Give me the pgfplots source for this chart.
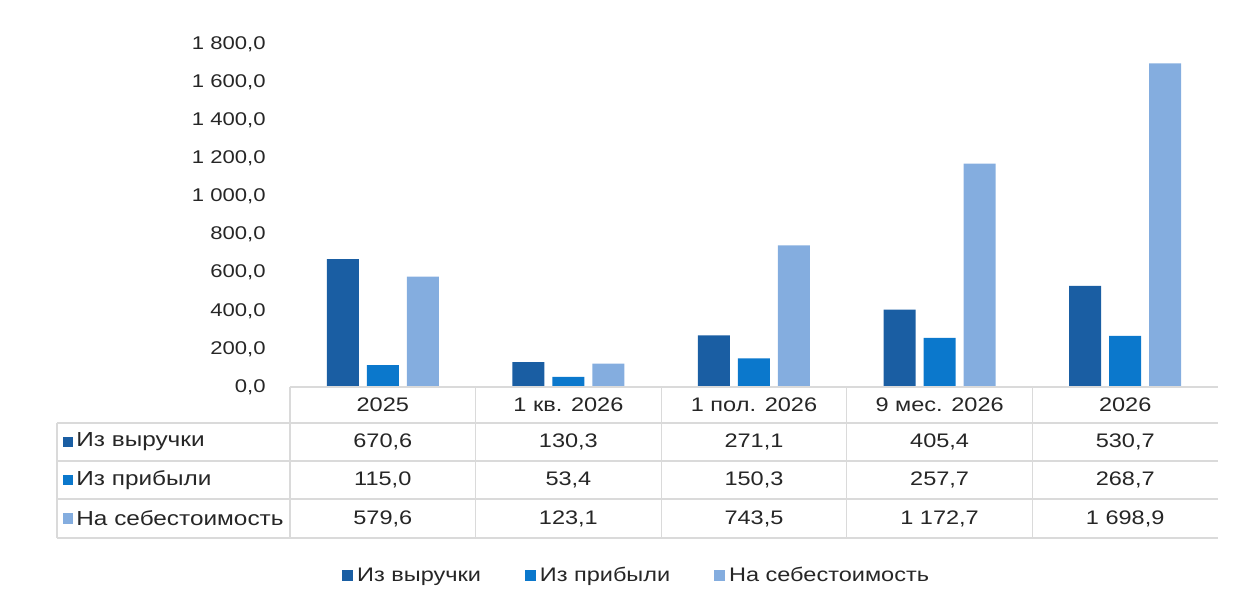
\documentclass[border=0pt]{standalone}
\usepackage{fontspec}
\setmainfont{Liberation Sans}[FakeStretch=1.2]
\usepackage{pgfplots}
\pgfplotsset{compat=1.18}
\definecolor{cA}{HTML}{1A5EA3}
\definecolor{cB}{HTML}{0B78CC}
\definecolor{cC}{HTML}{84ADDF}
\definecolor{gridc}{HTML}{DADADA}
\definecolor{txt}{HTML}{262626}
\begin{document}
\begin{tikzpicture}[x=1pt,y=1pt]
\path[use as bounding box] (-145,-109) rectangle (471.5,193.5);
\begin{axis}[
  at={(0,0)}, anchor=south west,
  scale only axis, width=464pt, height=171.5pt,
  xmin=-0.5, xmax=4.5, ymin=0, ymax=1800,
  ybar=4pt, bar width=16pt,
  clip=false,
  axis line style={draw=none},
  tick style={draw=none},
  xtick=\empty,
  ytick={0,200,400,600,800,1000,1200,1400,1600,1800},
  yticklabels={{0,0},{200,0},{400,0},{600,0},{800,0},{1 000,0},{1 200,0},{1 400,0},{1 600,0},{1 800,0}},
  yticklabel style={anchor=east, inner sep=0pt, xshift=-12pt, font=\fontsize{9.2}{10}\selectfont, text=txt},
  legend style={at={(axis description cs:0.056,-0.551)}, anchor=west, draw=none, fill=none,
    legend columns=3, font=\fontsize{9.8}{12}\selectfont, text=txt,
    /tikz/every even column/.append style={column sep=20pt},
    inner sep=0pt},
  legend image code/.code={\fill[#1] (0pt,-2.6pt) rectangle (5.4pt,2.8pt);},
]
\addplot[fill=cA, draw=none] coordinates {(0,670.6) (1,130.3) (2,271.1) (3,405.4) (4,530.7)};
\addplot[fill=cB, draw=none] coordinates {(0,115.0) (1,53.4) (2,150.3) (3,257.7) (4,268.7)};
\addplot[fill=cC, draw=none] coordinates {(0,579.6) (1,123.1) (2,743.5) (3,1172.7) (4,1698.9)};
\legend{Из выручки, Из прибыли, На себестоимость}
\end{axis}
% table grid
\draw[gridc, line width=0.6pt] (0,0) -- (464,0);
\foreach \yy in {-18,-37,-56,-75.5} \draw[gridc, line width=0.6pt] (-116.5,\yy) -- (464,\yy);
\foreach \k in {0,1,2,3,4} \draw[gridc, line width=0.6pt] (\k*92.8,0) -- (\k*92.8,-75.5);
\draw[gridc, line width=0.6pt] (-116.5,-18) -- (-116.5,-75.5);
% header
\foreach \lab [count=\i from 0] in {2025,1 кв. 2026,1 пол. 2026,9 мес. 2026,2026}
  \node[text=txt, font=\fontsize{9.8}{11}\selectfont] at (46.4+\i*92.8,-9) {\lab};
% rows
\foreach \lab [count=\i from 0] in {{670,6},{130,3},{271,1},{405,4},{530,7}}
  \node[text=txt, font=\fontsize{9.8}{11}\selectfont] at (46.4+\i*92.8,-27.5) {\lab};
\foreach \lab [count=\i from 0] in {{115,0},{53,4},{150,3},{257,7},{268,7}}
  \node[text=txt, font=\fontsize{9.8}{11}\selectfont] at (46.4+\i*92.8,-46.5) {\lab};
\foreach \lab [count=\i from 0] in {{579,6},{123,1},{743,5},{1 172,7},{1 698,9}}
  \node[text=txt, font=\fontsize{9.8}{11}\selectfont] at (46.4+\i*92.8,-65.75) {\lab};
% row labels
\fill[cA] (-113.7,-30.2) rectangle (-108.3,-24.8);
\node[anchor=west, inner sep=0pt, text=txt, font=\fontsize{10.15}{12}\selectfont] at (-107,-27.5) {Из выручки};
\fill[cB] (-113.7,-49.2) rectangle (-108.3,-43.8);
\node[anchor=west, inner sep=0pt, text=txt, font=\fontsize{10.15}{12}\selectfont] at (-107,-46.5) {Из прибыли};
\fill[cC] (-113.7,-68.45) rectangle (-108.3,-63.05);
\node[anchor=west, inner sep=0pt, text=txt, font=\fontsize{10.15}{12}\selectfont] at (-107,-65.75) {На себестоимость};
\end{tikzpicture}
\end{document}
